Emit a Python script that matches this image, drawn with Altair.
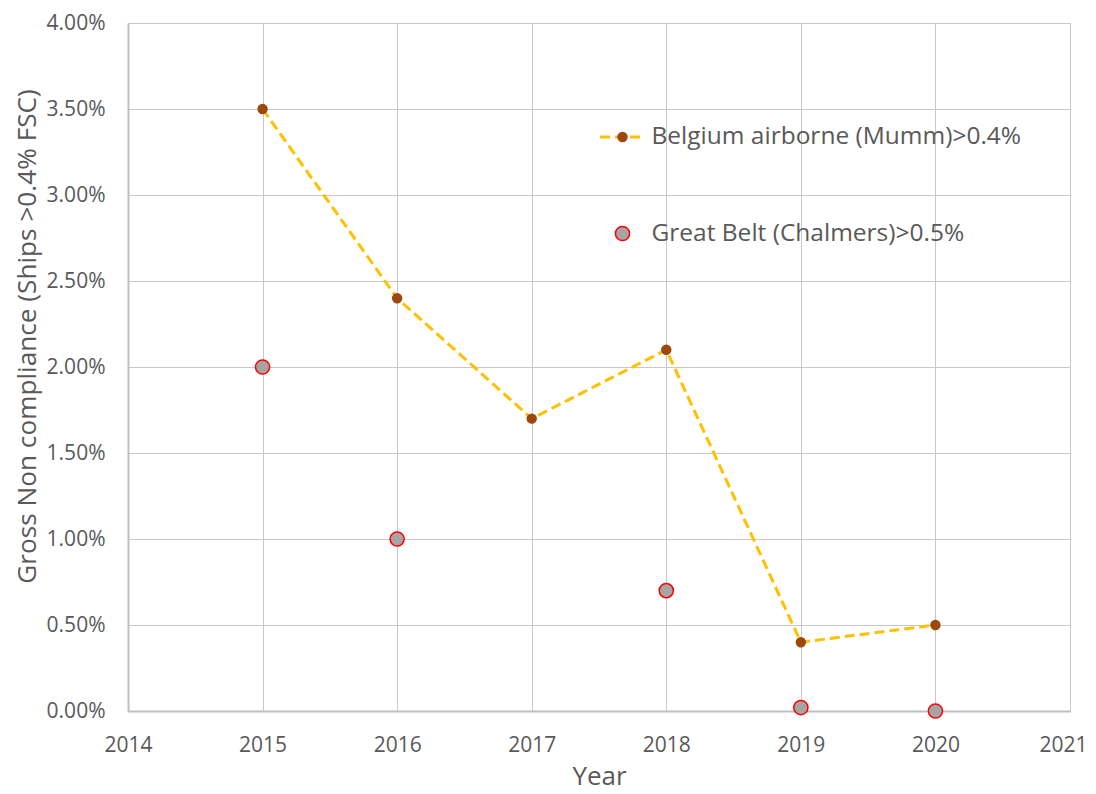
import altair as alt
import pandas as pd

# ---- data ----
years_belgium = [2015, 2016, 2017, 2018, 2019, 2020]
belgium = [0.035, 0.024, 0.017, 0.021, 0.004, 0.005]

years_belt = [2015, 2016, 2018, 2019, 2020]
great_belt = [0.020, 0.010, 0.007, 0.0002, 0.0]

x_ticks = [2014, 2015, 2016, 2017, 2018, 2019, 2020, 2021]
y_ticks = [0.0, 0.005, 0.01, 0.015, 0.02, 0.025, 0.03, 0.035, 0.04]

S_BEL = "Belgium airborne (Mumm)>0.4%"
S_GB = "Great Belt (Chalmers)>0.5%"

FONT = "Open Sans"
TXT = "#595959"

df_line = pd.DataFrame({"year": years_belgium, "value": belgium, "series": S_BEL})
df_pts = pd.DataFrame({
    "year": years_belgium + years_belt,
    "value": belgium + great_belt,
    "series_pt": [S_BEL] * len(belgium) + [S_GB] * len(great_belt),
})

x_enc = alt.X("year:Q",
              scale=alt.Scale(domain=[2014, 2021], nice=False, zero=False),
              axis=alt.Axis(values=x_ticks, format="d", title="Year",
                            labelFontSize=21, labelFont=FONT, labelColor=TXT,
                            labelBaseline="alphabetic", labelPadding=40,
                            labelFlush=False, labelOverlap=False,
                            labelOffset={"condition": {"test": "datum.value == 2021", "value": -7},
                                         "value": 0},
                            ticks=False, tickSize=0,
                            titleFontSize=26, titleFont=FONT, titleColor=TXT,
                            titleFontWeight="normal", titleBaseline="alphabetic",
                            titleY=73, titleX=471,
                            grid=True, gridColor="#c8c8c8", gridWidth=1,
                            domainColor="#bfbfbf", domainWidth=2))
y_enc = alt.Y("value:Q",
              scale=alt.Scale(domain=[0, 0.04], nice=False),
              axis=alt.Axis(values=y_ticks, format=".2%",
                            title="Gross Non compliance  (Ships >0.4% FSC)",
                            labelFontSize=21, labelFont=FONT, labelColor=TXT,
                            labelPadding=23, labelFlush=False, labelOverlap=False,
                            ticks=False, tickSize=0,
                            titleFontSize=26.2, titleFont=FONT, titleColor=TXT,
                            titleFontWeight="normal", titleAngle=270,
                            titleBaseline="middle", titleAlign="center",
                            titleX=-101, titleY=313,
                            grid=True, gridColor="#c8c8c8", gridWidth=1,
                            domainColor="#bfbfbf", domainWidth=2))

legend_a = alt.Legend(title=None, orient="none", legendX=470.5, legendY=90,
                      symbolType="stroke", symbolDash=[10, 5], symbolStrokeWidth=3,
                      symbolSize=2025, labelFontSize=24.5, labelFont=FONT,
                      labelColor=TXT, labelLimit=1000, labelOffset=5,
                      rowPadding=61, padding=0)

line = alt.Chart(df_line).mark_line(strokeWidth=3, strokeDash=[10, 5]).encode(
    x=x_enc, y=y_enc,
    color=alt.Color("series:N",
                    scale=alt.Scale(domain=[S_BEL, S_GB], range=["#FFC000", "transparent"]),
                    legend=legend_a),
)

legend_b = alt.Legend(title=None, orient="none", legendX=482.25, legendY=101.75,
                      symbolStrokeWidth=1.5, labelFontSize=24.5, labelFont=FONT,
                      labelOpacity=0, labelLimit=1000, rowPadding=71.5, padding=0)

points = alt.Chart(df_pts).mark_point(filled=True, strokeWidth=1.5, opacity=1).encode(
    x=x_enc, y=y_enc,
    fill=alt.Fill("series_pt:N", scale=alt.Scale(range=["#9E480E", "#A5A5A5"]), legend=legend_b),
    stroke=alt.Stroke("series_pt:N", scale=alt.Scale(range=["#9E480E", "#FF0000"]), legend=legend_b),
    size=alt.Size("series_pt:N", scale=alt.Scale(range=[80, 200]), legend=legend_b),
)

chart = alt.layer(line, points).properties(
    width=942, height=688,
    padding={"left": 120, "top": 15, "right": 18, "bottom": 75},
    autosize=alt.AutoSizeParams(type="none"),
).configure_view(strokeWidth=0).configure(background="white")

chart.save("out.html", embed_options={"renderer": "svg", "actions": False})
